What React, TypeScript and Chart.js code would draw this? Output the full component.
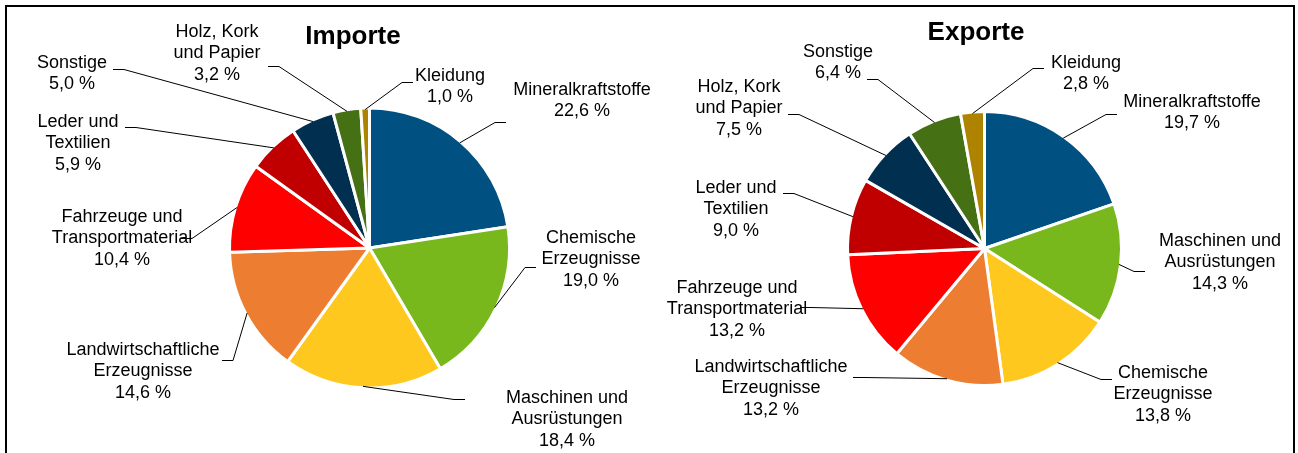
import React, { useEffect, useRef } from 'react';
import { Chart, registerables } from 'chart.js';

Chart.register(...registerables);

// ---------- data ----------
const importCategories = [
  'Mineralkraftstoffe',
  'Chemische\nErzeugnisse',
  'Maschinen und\nAusrüstungen',
  'Landwirtschaftliche\nErzeugnisse',
  'Fahrzeuge und\nTransportmaterial',
  'Leder und\nTextilien',
  'Sonstige',
  'Holz, Kork\nund Papier',
  'Kleidung',
];
const importValues = [22.6, 19.0, 18.4, 14.6, 10.4, 5.9, 5.0, 3.2, 1.0];

const exportCategories = [
  'Mineralkraftstoffe',
  'Maschinen und\nAusrüstungen',
  'Chemische\nErzeugnisse',
  'Landwirtschaftliche\nErzeugnisse',
  'Fahrzeuge und\nTransportmaterial',
  'Leder und\nTextilien',
  'Holz, Kork\nund Papier',
  'Sonstige',
  'Kleidung',
];
const exportValues = [19.7, 14.3, 13.8, 13.2, 13.2, 9.0, 7.5, 6.4, 2.8];

// ---------- styles ----------
const sliceColors = [
  '#005082', // blue
  '#78B81C', // green
  '#FFC81F', // yellow
  '#ED7D31', // orange
  '#FF0000', // red
  '#C00000', // dark red
  '#002F4F', // navy
  '#467014', // dark green
  '#AE8300', // gold
];

// label layout relative to pie centre: [textCenterX, firstLineY, leaderEndX, leaderEndY]
const importLabelLayout = [
  [212.5, -158, 136.5, -126],
  [221.5, -10, 166.5, 19],
  [197.5, 150, 95.5, 151],
  [-226.5, 102, -147.5, 112],
  [-247.5, -31, -188.5, -10],
  [-291.5, -126, -244.5, -121],
  [-297.5, -185, -256.5, -179],
  [-152.5, -216, -101.5, -182],
  [80.5, -172, 43.5, -166],
];
const exportLabelLayout = [
  [207.5, -146.5, 132.5, -134.5],
  [235.5, -7.5, 160.5, 22.5],
  [178.5, 124.5, 127.5, 130.5],
  [-213.5, 118.5, -131.5, 128.5],
  [-247.5, 39.5, -184.5, 58.5],
  [-248.5, -60.5, -201.5, -55.5],
  [-245.5, -161.5, -196.5, -134.5],
  [-146.5, -196.5, -117.5, -169.5],
  [101.5, -185.5, 59.5, -180.5],
];

const FONT = '"Liberation Sans", Arial, Helvetica, sans-serif';
const LINE_H = 21.5;

const fmt = (v: number) => v.toFixed(1).replace('.', ',') + ' %';

const calloutPlugin = {
  id: 'callouts',
  afterDatasetsDraw(chart: any, _args: any, opts: any) {
    const meta = chart.getDatasetMeta(0);
    if (!meta.data.length) return;
    const ctx: CanvasRenderingContext2D = chart.ctx;
    const first = meta.data[0];
    const cx = first.x;
    const cy = first.y;
    const labels: string[] = chart.data.labels;
    const values: number[] = chart.data.datasets[0].data;
    ctx.save();
    // title
    ctx.fillStyle = '#000';
    ctx.textAlign = 'center';
    ctx.textBaseline = 'middle';
    ctx.font = `bold 26px ${FONT}`;
    ctx.fillText(opts.title, cx + opts.titleOffset[0], cy + opts.titleOffset[1]);

    ctx.font = `18px ${FONT}`;
    ctx.strokeStyle = '#000';
    ctx.lineWidth = 1;
    meta.data.forEach((arc: any, i: number) => {
      const { startAngle, endAngle, outerRadius } = arc.getProps(
        ['startAngle', 'endAngle', 'outerRadius'],
        true
      );
      const mid = (startAngle + endAngle) / 2;
      const r = outerRadius - 1.5;
      const sx = cx + Math.cos(mid) * r;
      const sy = cy + Math.sin(mid) * r;
      const [tx, ty, ex, ey] = opts.layout[i];
      const dir = tx > ex ? -1 : 1;
      const endX = cx + ex;
      const endY = Math.round(cy + ey) + 0.5;
      const elbowX = endX + dir * 11;
      ctx.beginPath();
      ctx.moveTo(sx, sy);
      ctx.lineTo(elbowX, endY);
      ctx.lineTo(endX, endY);
      ctx.stroke();

      const lines = [...String(labels[i]).split('\n'), fmt(values[i])];
      lines.forEach((ln, k) => {
        ctx.fillText(ln, cx + tx, cy + ty + k * LINE_H);
      });
    });
    ctx.restore();
  },
};

type PieProps = {
  categories: string[];
  values: number[];
  title: string;
  titleOffset: number[];
  layout: number[][];
  padding: { left: number; right: number; top: number; bottom: number };
  radius: number;
  left: number;
  width: number;
  height: number;
};

function PieChart(p: PieProps) {
  const ref = useRef<HTMLCanvasElement>(null);
  useEffect(() => {
    const chart = new Chart(ref.current as HTMLCanvasElement, {
      type: 'pie',
      data: {
        labels: p.categories,
        datasets: [
          {
            data: p.values,
            backgroundColor: sliceColors,
            borderColor: '#ffffff',
            borderWidth: 3,
          },
        ],
      },
      options: {
        responsive: false,
        animation: false,
        devicePixelRatio: 1,
        radius: p.radius,
        events: [],
        layout: { padding: p.padding },
        plugins: {
          legend: { display: false },
          tooltip: { enabled: false },
          callouts: { title: p.title, titleOffset: p.titleOffset, layout: p.layout },
        },
      } as any,
      plugins: [calloutPlugin],
    });
    return () => chart.destroy();
  }, []);
  return (
    <canvas
      ref={ref}
      width={p.width}
      height={p.height}
      style={{ position: 'absolute', left: p.left, top: 0, width: p.width, height: p.height }}
    />
  );
}

export default function App() {
  return (
    <div
      style={{
        position: 'absolute',
        left: 0,
        top: 0,
        width: 1298,
        height: 453,
        overflow: 'hidden',
        background: '#ffffff',
      }}
    >
      <div
        style={{
          position: 'absolute',
          left: 5,
          top: 5,
          width: 1286,
          height: 470,
          borderTop: '2px solid #000',
          borderLeft: '2px solid #000',
          borderRight: '2px solid #000',
        }}
      />
      <PieChart
        categories={importCategories}
        values={importValues}
        title="Importe"
        titleOffset={[-16.5, -211]}
        layout={importLabelLayout}
        padding={{ left: 39, right: 0, top: 43, bottom: 0 }}
        radius={140}
        left={0}
        width={700}
        height={453}
      />
      <PieChart
        categories={exportCategories}
        values={exportValues}
        title="Exporte"
        titleOffset={[-8.5, -215.5]}
        layout={exportLabelLayout}
        padding={{ left: 22, right: 0, top: 44, bottom: 0 }}
        radius={137}
        left={649}
        width={649}
        height={453}
      />
    </div>
  );
}
